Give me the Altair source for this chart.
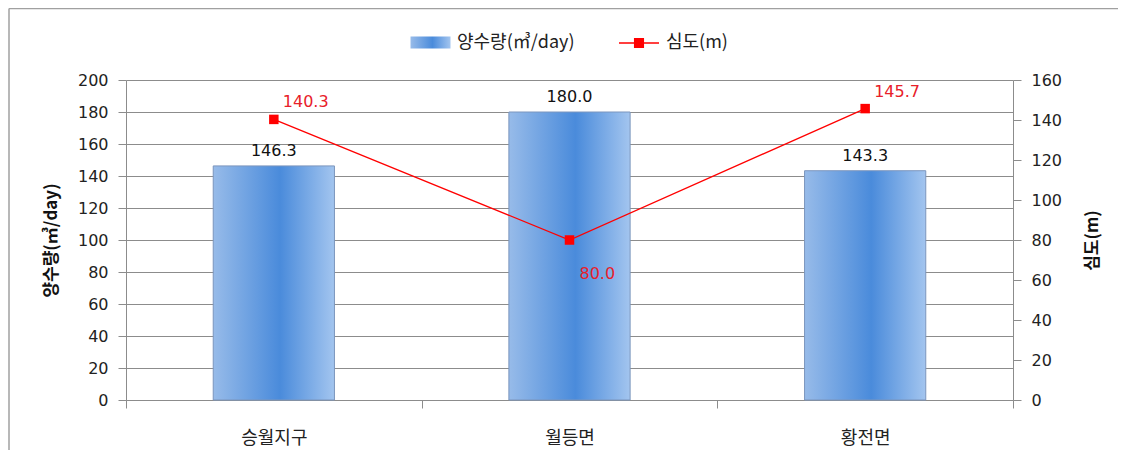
import altair as alt
import pandas as pd

categories = ["승월지구", "월등면", "황전면"]
pumping = [146.3, 180.0, 143.3]
depth = [140.3, 80.0, 145.7]
bar_name = "양수량(㎥/day)"
line_name = "심도(m)"
left_ticks = [0, 20, 40, 60, 80, 100, 120, 140, 160, 180, 200]
right_ticks = [0, 20, 40, 60, 80, 100, 120, 140, 160]

df = pd.DataFrame({"cat": categories, "pump": pumping, "depth": depth,
                   "bs": [bar_name] * 3, "ls": [line_name] * 3})

NUM_FONT = "DejaVu Sans"
KR_FONT = "Noto Sans CJK KR"
GRID = "#8c8c8c"
RED = "#ff0000"

x_enc = alt.X("cat:N", sort=categories, title=None,
              scale=alt.Scale(paddingInner=0, paddingOuter=0),
              axis=alt.Axis(labelAngle=0, tickBand="extent", tickSize=8,
                            labelPadding=21, labelFont=KR_FONT, labelFontSize=18,
                            labelColor="#222222", domainColor=GRID, tickColor=GRID))

y_left = alt.Y("pump:Q", title=bar_name,
               scale=alt.Scale(domain=[0, 200], nice=False),
               axis=alt.Axis(values=left_ticks, tickCount=20, labelOverlap=False,
                             tickSize=8, labelPadding=10,
                             labelFont=NUM_FONT, labelFontSize=16, labelColor="#222222",
                             titleFont=KR_FONT, titleFontSize=17, titleFontWeight="bold",
                             titleColor="#111111", titlePadding=17,
                             grid=True, gridColor=GRID, domainColor=GRID, tickColor=GRID))

y_right = alt.Y("depth:Q", title=line_name,
                scale=alt.Scale(domain=[0, 160], nice=False),
                axis=alt.Axis(orient="right", values=right_ticks, tickCount=20,
                              labelOverlap=False, tickSize=8,
                              labelPadding=10, labelFont=NUM_FONT, labelFontSize=16,
                              labelColor="#222222", titleFont=KR_FONT, titleFontSize=17,
                              titleFontWeight="bold", titleColor="#111111",
                              titleAngle=270, titlePadding=40, grid=False,
                              domainColor=GRID, tickColor=GRID))

grad = alt.LinearGradient(
    gradient="linear", x1=0, x2=1, y1=0, y2=0,
    stops=[alt.GradientStop(offset=0, color="#97bbe9"),
           alt.GradientStop(offset=0.55, color="#4a8bdb"),
           alt.GradientStop(offset=1, color="#a3c5ef")])

base = alt.Chart(df)

bars = base.mark_bar(color=grad, stroke="#7b95bd", strokeWidth=1,
                     width=alt.RelativeBandSize(0.41)).encode(
    x=x_enc,
    y=y_left,
    opacity=alt.Opacity("bs:N", scale=alt.Scale(domain=[bar_name], range=[1]),
                        legend=alt.Legend(orient="none", legendX=284, legendY=-58,
                                          title=None, symbolType="M-1,-0.3H1V0.3H-1Z",
                                          symbolSize=1600, symbolStrokeColor="#7b95bd",
                                          symbolStrokeWidth=1, labelOffset=6,
                                          labelFont=KR_FONT, labelFontSize=18,
                                          labelColor="#222222")),
)

bar_text = base.mark_text(font=NUM_FONT, fontSize=16, color="#111111",
                          baseline="middle", dy=-15).encode(
    x=alt.X("cat:N", sort=categories),
    y=y_left,
    text=alt.Text("pump:Q", format=".1f"),
)

left = alt.layer(bars, bar_text)

line = base.mark_line(color=RED, strokeWidth=1.3).encode(
    x=alt.X("cat:N", sort=categories), y=y_right)

points = base.mark_point(shape="square", filled=True, size=90, opacity=1).encode(
    x=alt.X("cat:N", sort=categories),
    y=y_right,
    color=alt.Color("ls:N", scale=alt.Scale(domain=[line_name], range=[RED]),
                    legend=alt.Legend(orient="none", legendX=492, legendY=-58,
                                      title=None,
                                      symbolType="M-1,0H1M-0.22,-0.22H0.22V0.22H-0.22Z",
                                      symbolSize=1600, symbolStrokeColor=RED,
                                      symbolFillColor=RED, symbolStrokeWidth=1.3,
                                      labelOffset=6, labelFont=KR_FONT, labelFontSize=18,
                                      labelColor="#222222")),
)

text_up = base.transform_filter("datum.depth > 100").mark_text(
    font=NUM_FONT, fontSize=16, color="#e8202a", align="left",
    baseline="middle", dx=9, dy=-17).encode(
    x=alt.X("cat:N", sort=categories), y=y_right,
    text=alt.Text("depth:Q", format=".1f"))

text_down = base.transform_filter("datum.depth <= 100").mark_text(
    font=NUM_FONT, fontSize=16, color="#e8202a", align="left",
    baseline="middle", dx=10, dy=34).encode(
    x=alt.X("cat:N", sort=categories), y=y_right,
    text=alt.Text("depth:Q", format=".1f"))

right = alt.layer(line, points, text_up, text_down)

frame_data = alt.Data(values=[{}])
frame_top = alt.Chart(frame_data).mark_rule(stroke="#a0a0a0", strokeWidth=1.5).encode(
    x=alt.value(-117), x2=alt.value(1010), y=alt.value(-71.5))
frame_left = alt.Chart(frame_data).mark_rule(stroke="#a0a0a0", strokeWidth=1.5).encode(
    x=alt.value(-117), y=alt.value(-71.5), y2=alt.value(400))

chart = alt.layer(left, right, frame_top, frame_left).resolve_scale(
    y="independent", opacity="independent", color="independent"
).properties(
    width=887, height=320,
    padding={"left": 118, "top": 72, "right": 105, "bottom": 50},
    autosize=alt.AutoSizeParams(type="none"),
).configure_view(stroke=None).configure_legend(padding=0)

chart.save("out.html", embed_options={"renderer": "svg", "actions": False})
